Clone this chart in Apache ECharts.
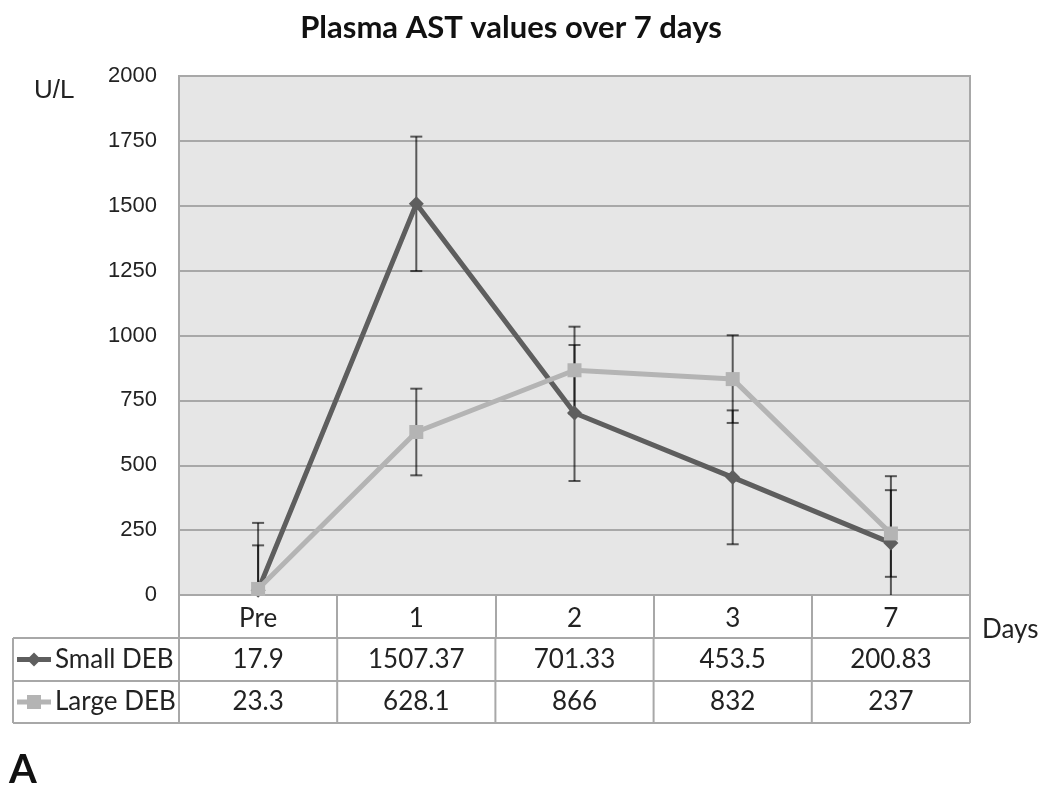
<!DOCTYPE html>
<html><head><meta charset="utf-8">
<script src="https://cdn.jsdelivr.net/npm/echarts@6/dist/echarts.min.js"></script>
<style>html,body{margin:0;padding:0;background:#fff}#c{width:1050px;height:786px}</style>
</head><body><div id="c"></div>
<script>
// ---- data ----
const titleText = 'Plasma AST values over 7 days';
const categories = ['Pre', '1', '2', '3', '7'];
const seriesNames = ['Small DEB', 'Large DEB'];
const smallDEB = [17.9, 1507.37, 701.33, 453.5, 200.83];
const largeDEB = [23.3, 628.1, 866, 832, 237];
const smallErr = [260, 259, 262, 258, 257];
const largeErr = [168, 167, 168, 169, 167];
const yMin = 0, yMax = 2000, yStep = 250;
const yUnit = 'U/L';
const xUnit = 'Days';
const panelLetter = 'A';

// ---- styles ----
const smallColor = '#5e5e5e';
const largeColor = '#b4b4b4';
const gridColor = '#a8a8a8';
const errColor = 'rgba(0,0,0,0.62)';
const textColor = '#222';
const tableFont = 'Lato';

const chart = echarts.init(document.getElementById('c'), null, {renderer: 'canvas'});

function errData(vals, errs) {
  return vals.map((v, i) => [i, v - errs[i], v + errs[i]]);
}
function renderErr(params, api) {
  const x = api.value(0);
  const lo = api.value(1), hi = api.value(2);
  const loC = Math.max(lo, yMin);
  const pHi = api.coord([x, hi]);
  const pLo = api.coord([x, loC]);
  const hw = 6;
  const st = {stroke: errColor, lineWidth: 2};
  const children = [
    {type: 'line', shape: {x1: pHi[0], y1: pHi[1], x2: pLo[0], y2: pLo[1]}, style: st},
    {type: 'line', shape: {x1: pHi[0] - hw, y1: pHi[1], x2: pHi[0] + hw, y2: pHi[1]}, style: st}
  ];
  if (lo >= yMin) {
    children.push({type: 'line', shape: {x1: pLo[0] - hw, y1: pLo[1], x2: pLo[0] + hw, y2: pLo[1]}, style: st});
  }
  return {type: 'group', children};
}

const option = {
  animation: false,
  backgroundColor: '#fff',
  title: {
    text: titleText, left: 506, top: 7, textAlign: 'center',
    textStyle: {fontFamily: tableFont, fontWeight: 'bold', fontSize: 31, color: '#111'}
  },
  grid: {
    left: 179, right: 80, top: 76, bottom: 191,
    show: true, backgroundColor: '#e6e6e6', borderColor: gridColor, borderWidth: 2
  },
  xAxis: {
    type: 'category', data: categories, boundaryGap: true,
    axisLine: {show: true, lineStyle: {color: gridColor, width: 2}},
    axisTick: {show: true, interval: 0, length: 43, lineStyle: {color: gridColor, width: 2}},
    axisLabel: {interval: 0, margin: 11, fontFamily: tableFont, fontSize: 26, color: textColor}
  },
  yAxis: {
    type: 'value', min: yMin, max: yMax, interval: yStep,
    axisLine: {show: false}, axisTick: {show: false},
    axisLabel: {margin: 22, fontFamily: 'Liberation Sans', fontSize: 22, color: textColor,
      formatter: v => String(v)},
    splitLine: {show: true, lineStyle: {color: gridColor, width: 2}}
  },
  series: [
    {
      type: 'custom', name: seriesNames[0] + ' err', renderItem: renderErr,
      data: errData(smallDEB, smallErr), encode: {x: 0, y: [1, 2]}, z: 1, silent: true
    },
    {
      type: 'custom', name: seriesNames[1] + ' err', renderItem: renderErr,
      data: errData(largeDEB, largeErr), encode: {x: 0, y: [1, 2]}, z: 1, silent: true
    },
    {
      type: 'line', name: seriesNames[0], data: smallDEB, z: 2,
      symbol: 'diamond', symbolSize: 15, showAllSymbol: true,
      lineStyle: {color: smallColor, width: 5}, itemStyle: {color: smallColor}
    },
    {
      type: 'line', name: seriesNames[1], data: largeDEB, z: 3,
      symbol: 'rect', symbolSize: 14, showAllSymbol: true,
      lineStyle: {color: largeColor, width: 5}, itemStyle: {color: largeColor}
    }
  ]
};
chart.setOption(option);

// ---- data table below the axis (positions derived from the axis) ----
const xs = categories.map((c, i) => chart.convertToPixel({xAxisIndex: 0}, i));
const hw = (xs[1] - xs[0]) / 2;
const xLeft = xs[0] - hw, xRight = xs[xs.length - 1] + hw;
const y0 = chart.convertToPixel({yAxisIndex: 0}, yMin);
const yTopAxis = chart.convertToPixel({yAxisIndex: 0}, yMax);
const rowH = 43;
const tableLeft = 13;
const rowTops = [y0 + rowH, y0 + 2 * rowH];
const tableBottom = y0 + 3 * rowH - 1;
const lineSt = {stroke: gridColor, lineWidth: 2};
const g = [];
[rowTops[0], rowTops[1], tableBottom].forEach(y => {
  g.push({type: 'line', shape: {x1: tableLeft, y1: y, x2: xRight, y2: y}, style: lineSt, z: 10});
});
g.push({type: 'line', shape: {x1: tableLeft, y1: rowTops[0], x2: tableLeft, y2: tableBottom}, style: lineSt, z: 10});
for (let i = 0; i <= categories.length; i++) {
  const x = xLeft + i * 2 * hw;
  g.push({type: 'line', shape: {x1: x, y1: rowTops[0], x2: x, y2: tableBottom}, style: lineSt, z: 10});
}
const rows = [
  {name: seriesNames[0], vals: smallDEB, color: smallColor, sym: 'diamond'},
  {name: seriesNames[1], vals: largeDEB, color: largeColor, sym: 'rect'}
];
rows.forEach((r, ri) => {
  const top = rowTops[ri];
  const bot = ri === rows.length - 1 ? tableBottom : rowTops[ri + 1];
  const cy = (top + bot) / 2;
  r.vals.forEach((v, i) => {
    g.push({type: 'text', x: xs[i], y: cy, z: 11,
      style: {text: String(v), fontFamily: tableFont, fontSize: 26, fill: textColor, align: 'center', verticalAlign: 'middle'}});
  });
  g.push({type: 'text', x: 55, y: cy, z: 11,
    style: {text: r.name, fontFamily: tableFont, fontSize: 26, fill: textColor, align: 'left', verticalAlign: 'middle'}});
  g.push({type: 'line', shape: {x1: 17, y1: cy, x2: 51, y2: cy}, style: {stroke: r.color, lineWidth: 5}, z: 11});
  if (r.sym === 'diamond') {
    g.push({type: 'polygon', shape: {points: [[34, cy - 7], [41, cy], [34, cy + 7], [27, cy]]}, style: {fill: r.color}, z: 12});
  } else {
    g.push({type: 'rect', shape: {x: 27, y: cy - 7, width: 14, height: 14}, style: {fill: r.color}, z: 12});
  }
});
g.push({type: 'text', x: xRight + 12, y: y0 + 35, z: 11,
  style: {text: xUnit, fontFamily: tableFont, fontSize: 26, fill: textColor, align: 'left', verticalAlign: 'middle'}});
g.push({type: 'text', x: 34, y: yTopAxis + 15, z: 11,
  style: {text: yUnit, fontFamily: 'Liberation Sans', fontSize: 26, fill: textColor, align: 'left', verticalAlign: 'middle'}});
g.push({type: 'text', x: 9, y: 770, z: 11,
  style: {text: panelLetter, fontFamily: tableFont, fontWeight: 'bold', fontSize: 40, fill: '#111', align: 'left', verticalAlign: 'middle'}});
chart.setOption({graphic: {elements: g}});
</script>
</body></html>
